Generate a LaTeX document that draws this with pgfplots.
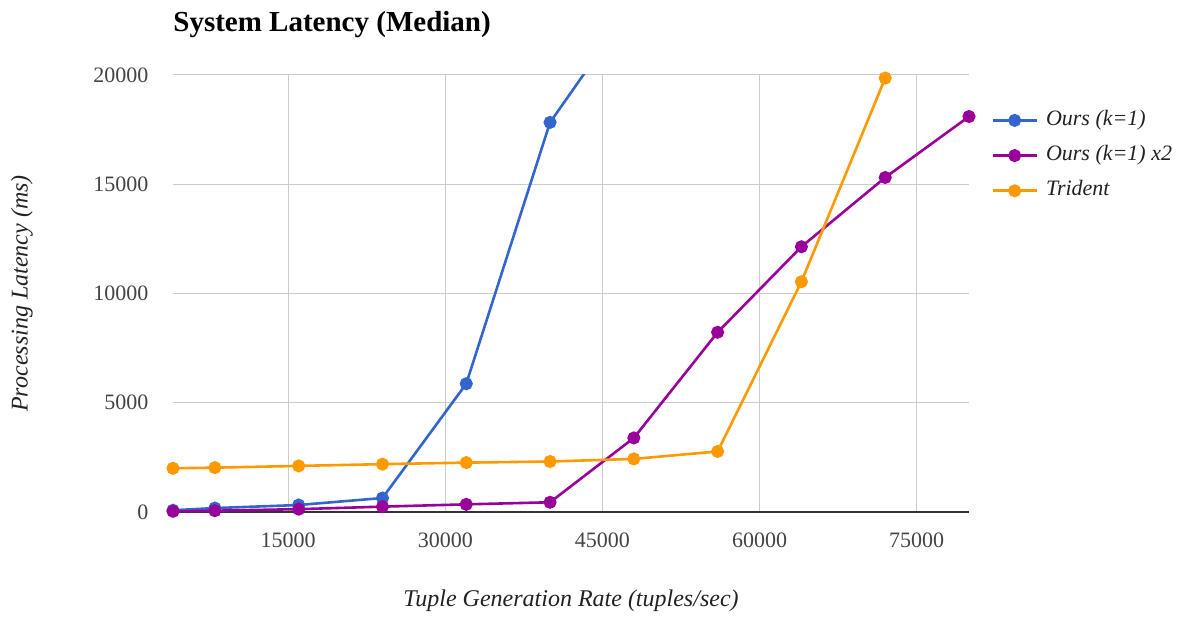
\documentclass[border=0pt]{standalone}
\usepackage{pgfplots}
\pgfplotsset{compat=1.18}
\usetikzlibrary{calc}
\usepackage{fontspec}
\setmainfont{Liberation Serif}
\definecolor{gblue}{HTML}{3366CC}
\definecolor{gpurple}{HTML}{990099}
\definecolor{gorange}{HTML}{FF9900}
\definecolor{gridc}{HTML}{CCCCCC}
\definecolor{tickc}{HTML}{444444}
\definecolor{labc}{HTML}{222222}
\definecolor{axc}{HTML}{333333}
\begin{document}
\begin{tikzpicture}
\begin{axis}[
  name=ax,
  scale only axis,
  width=398pt, height=218.5pt,
  xmin=4000, xmax=80000, ymin=0, ymax=20000,
  xtick={15000,30000,45000,60000,75000},
  ytick={0,5000,10000,15000,20000},
  scaled ticks=false,
  /pgf/number format/.cd, 1000 sep={}, assume math mode=true, /pgfplots/.cd,
  major tick length=0pt,
  grid=major,
  major grid style={draw=gridc, line width=0.5pt},
  axis x line*=bottom, axis y line*=left,
  x axis line style={draw=axc, line width=0.75pt, -},
  y axis line style={draw=none},
  ticklabel style={font=\fontsize{11}{13}\selectfont, text=tickc},
  xticklabel style={anchor=north, yshift=-6.8pt},
  yticklabel style={anchor=east, xshift=-8.8pt},
  title={System Latency (Median)},
  title style={at={($(rel axis cs:0,1)+(0,15.5pt)$)}, anchor=base west, inner sep=0pt, font=\bfseries\fontsize{14.5}{17}\selectfont},
  xlabel={Tuple Generation Rate (tuples/sec)},
  ylabel={Processing Latency (ms)},
  xlabel style={at={($(rel axis cs:0.5,0)+(0,-47pt)$)}, anchor=base, inner sep=0pt, font=\itshape\fontsize{12}{14}\selectfont, text=labc},
  ylabel style={at={($(rel axis cs:0,0.5)+(-75.5pt,0)$)}, anchor=center, inner sep=0pt, font=\itshape\fontsize{12}{14}\selectfont, text=labc},
  legend style={at={($(rel axis cs:1,1)+(11pt,-17pt)$)}, anchor=north west, draw=none, fill=none, inner sep=0pt,
    font=\itshape\fontsize{11}{13}\selectfont, text=labc, row sep=6.6pt,
    nodes={inner sep=0pt, text height=8pt, text depth=3pt}},
  legend cell align=left,
  legend image code/.code={\draw[#1, mark=none] (0pt,0pt) -- (22pt,0pt); \draw[#1, draw=none] plot coordinates {(11pt,0pt)}; \path (26pt,0pt);},
  every axis plot/.append style={line width=1.3pt, mark=*, mark size=2.6pt},
]
\addplot[color=gblue, mark options={fill=gblue, draw=gblue}, mark indices={1,2,3,4,5,6}] coordinates {
(4000,80) (8000,180) (16000,320) (24000,640) (32000,5870) (40000,17830) (48000,23300)};
\addlegendentry{Ours (k=1)}
\addplot[color=gpurple, mark options={fill=gpurple, draw=gpurple}] coordinates {
(4000,30) (8000,60) (16000,130) (24000,245) (32000,350) (40000,445) (48000,3390) (56000,8225) (64000,12140) (72000,15310) (80000,18100)};
\addlegendentry{Ours (k=1) x2}
\addplot[color=gorange, mark options={fill=gorange, draw=gorange}] coordinates {
(4000,2000) (8000,2030) (16000,2110) (24000,2190) (32000,2260) (40000,2310) (48000,2430) (56000,2770) (64000,10540) (72000,19860)};
\addlegendentry{Trident}
\end{axis}
\useasboundingbox (ax.south west) ++(-86.5pt,-52pt) rectangle ++(591.5pt,308pt);
\end{tikzpicture}
\end{document}
